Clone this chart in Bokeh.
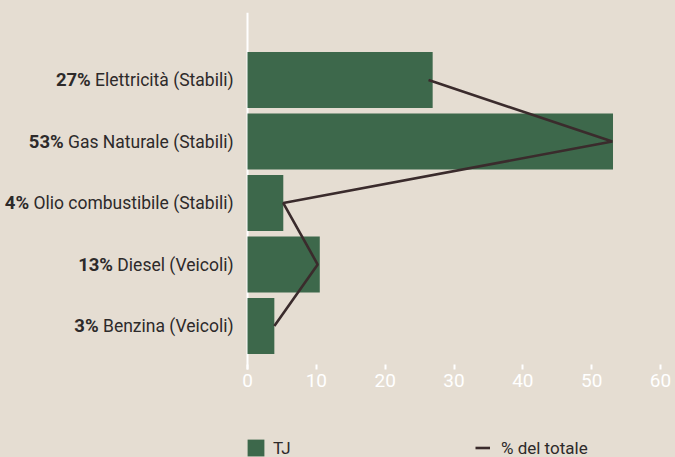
import os
import glob
import subprocess

from bokeh.plotting import figure
from bokeh.models import (Range1d, FixedTicker, ColumnDataSource, LabelSet,
                          Legend, LegendItem)
from bokeh.core.properties import value
from bokeh.embed import file_html
from bokeh.resources import INLINE

# ---------------- data ----------------
categories = ["Elettricità (Stabili)", "Gas Naturale (Stabili)",
              "Olio combustibile (Stabili)", "Diesel (Veicoli)",
              "Benzina (Veicoli)"]
pct_labels = ["27%", "53%", "4%", "13%", "3%"]
tj_values = [26.9, 53.1, 5.2, 10.5, 3.9]
pct_line = [26.3, 53.0, 5.2, 10.2, 3.9]
x_ticks = [0, 10, 20, 30, 40, 50, 60]
legend_bar = "TJ"
legend_line = "% del totale"

# ---------------- style / layout ----------------
W, H = 675, 457
BG = "#e5ddd2"
GREEN = "#3d684b"
LINE = "#3a2b2c"
TEXT = "#2d2a2a"
FONT = "Roboto"
LABEL_SIZE = 17.5
PCT_SIZE = 18.5
LABEL_GAP = 14          # px between label text and the zero line
ZERO_PX = 247           # page x of value 0
SIXTY_PX = 660          # page x of value 60
TOP_PX = 12             # top of the plotting band
BAND_PX = 61.5          # px per category
AXIS_Y = -0.707         # category-units position of the x axis (bottom of band area)
Y_TOP = 5.098           # category-units at TOP_PX


def font_path(style):
    try:
        r = subprocess.run(["fc-match", "-f", "%{file}", f"{FONT}:style={style}"],
                           capture_output=True, text=True, timeout=5)
        if r.returncode == 0 and r.stdout and os.path.exists(r.stdout):
            return r.stdout
    except Exception:
        pass
    name = "Roboto-Bold*" if style == "Bold" else "Roboto-Regular*"
    for pat in ["/usr/share/fonts/**/" + name, "/usr/local/share/fonts/**/" + name]:
        res = glob.glob(pat, recursive=True)
        if res:
            return res[0]
    return None


def text_width(text, style, size):
    try:
        from PIL import ImageFont
        path = font_path(style)
        if path:
            f = ImageFont.truetype(path, size)
            return f.getlength(text)
    except Exception:
        pass
    return 0.5 * size * len(text)


n = len(categories)
ys = [n - 1 - i for i in range(n)]

px_per_unit = (SIXTY_PX - ZERO_PX) / (x_ticks[-1] - x_ticks[0])
x_start = x_ticks[0] - ZERO_PX / px_per_unit
x_end = x_ticks[-1] + (W - SIXTY_PX) / px_per_unit
y_start = Y_TOP - (H - TOP_PX) / BAND_PX

p = figure(width=W, height=H, output_backend="svg", toolbar_location=None,
           x_range=Range1d(x_start, x_end), y_range=Range1d(y_start, Y_TOP),
           min_border_left=0, min_border_right=0, min_border_top=TOP_PX,
           min_border_bottom=0)
p.background_fill_color = BG
p.border_fill_color = BG
p.outline_line_color = None
p.grid.grid_line_color = None
p.yaxis.visible = False

# white zero line (value axis baseline)
p.segment(x0=[0], y0=[AXIS_Y], x1=[0], y1=[Y_TOP], line_color="white",
          line_width=2, level="underlay")

bars = p.hbar(y=ys, right=tj_values, left=0, height=0.91,
              fill_color=GREEN, line_color=None)
line = p.line(pct_line, ys, line_color=LINE, line_width=2.6)

# x axis, fixed at the bottom of the category area
xa = p.xaxis[0]
xa.fixed_location = AXIS_Y
xa.ticker = FixedTicker(ticks=x_ticks)
xa.axis_line_color = None
xa.major_tick_in = 5
xa.major_tick_out = 0
xa.major_tick_line_color = "white"
xa.major_tick_line_width = 2
xa.minor_tick_line_color = None
xa.major_label_text_color = "white"
xa.major_label_text_font = FONT
xa.major_label_text_font_size = "19px"
xa.major_label_standoff = 4

# category labels: regular name + bold percentage
gap = text_width(" ", "Regular", LABEL_SIZE)
name_off = [-LABEL_GAP] * n
pct_off = [-(LABEL_GAP + text_width(c, "Regular", LABEL_SIZE) + gap) for c in categories]
src = ColumnDataSource(dict(x=[0] * n, y=ys, name=categories, pct=pct_labels,
                            no=name_off, po=pct_off))
p.add_layout(LabelSet(x="x", y="y", text="name", x_offset="no", source=src,
                      text_align="right", text_baseline="middle",
                      text_font=value(FONT), text_font_style="normal",
                      text_font_size=f"{LABEL_SIZE}px", text_color=TEXT))
p.add_layout(LabelSet(x="x", y="y", text="pct", x_offset="po", source=src,
                      text_align="right", text_baseline="middle",
                      text_font=value(FONT), text_font_style="bold",
                      text_font_size=f"{PCT_SIZE}px", text_color=TEXT))


# legends
def make_legend(item, loc, gw, standoff):
    return Legend(items=[item], location=loc, orientation="horizontal",
                  padding=0, margin=0, border_line_alpha=0,
                  background_fill_alpha=0, glyph_width=gw, glyph_height=21,
                  label_height=21, label_standoff=standoff,
                  label_text_font=FONT, label_text_font_size="17px",
                  label_text_color=TEXT)


p.add_layout(make_legend(LegendItem(label=legend_bar, renderers=[bars]),
                         (ZERO_PX - 2, -1), 21, 7))
p.add_layout(make_legend(LegendItem(label=legend_line, renderers=[line]),
                         (475, -1), 15, 11))

html = file_html(p, INLINE)
html = html.replace("<head>", "<head><style>html,body{background:%s;}</style>" % BG, 1)
open("out.html", "w").write(html)
